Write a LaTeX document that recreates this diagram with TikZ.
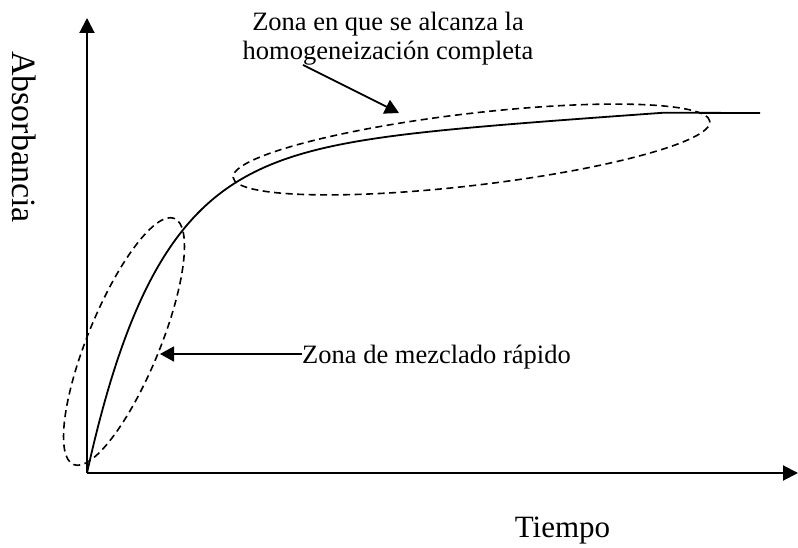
\documentclass[tikz,border=0pt]{standalone}
\usepackage{fontspec}
\setmainfont{Liberation Serif}
\usetikzlibrary{arrows.meta,shapes.geometric,calc}
\begin{document}
\begin{tikzpicture}[x=1pt,y=1pt,
  axisline/.style={line width=2pt,-{Triangle[length=15pt,width=15pt]}},
  curveline/.style={line width=1.8pt,line join=round},
  zone/.style={draw,dashed,dash pattern=on 7pt off 4.5pt,line width=1.6pt,ellipse,inner sep=0pt},
  pointer/.style={line width=1.8pt,-{Triangle[length=14pt,width=15pt]}},
  lbl/.style={inner sep=0pt,font=\fontsize{26.5pt}{29pt}\selectfont}
]
\useasboundingbox (0,0) rectangle (798,548);
% axes
\coordinate (O) at (87,75);
\coordinate (Ytop) at (87,530);
\coordinate (Xend) at (798,75);
\draw[axisline] (O) -- (Ytop);
\draw[axisline] (O) -- (Xend);
% axis labels
\node[inner sep=0pt,anchor=base,rotate=-90,font=\fontsize{34pt}{38pt}\selectfont] (ylab) at (13,411) {Absorbancia};
\node[inner sep=0pt,anchor=base,font=\fontsize{31pt}{35pt}\selectfont] (xlab) at (562.5,10) {Tiempo};
% curve
\draw[curveline] plot[domain=0:576,samples=220,smooth] ({87+\x},{75+320*(1-exp(-\x/71.5))+0.07*\x}) -- (760,435);
% zones
\node[zone,minimum width=266pt,minimum height=72pt,rotate=67.7] (fast) at (124,206.5) {};
\node[zone,minimum width=480pt,minimum height=72pt,rotate=6.7] (homog) at (471.5,398.5) {};
% labels
\node[lbl,anchor=base,align=center] (zhom) at (388,488) {Zona en que se alcanza la\\homogeneización completa};
\node[lbl,anchor=base west] (zmez) at (302,184) {Zona de mezclado rápido};
% pointers
\coordinate (p1s) at (303,483);
\coordinate (p1e) at (399,435);
\coordinate (p2e) at (160,194);
\draw[pointer] (p1s) -- (p1e);
\draw[pointer] (zmez.base west |- p2e) -- (p2e);
\end{tikzpicture}
\end{document}
